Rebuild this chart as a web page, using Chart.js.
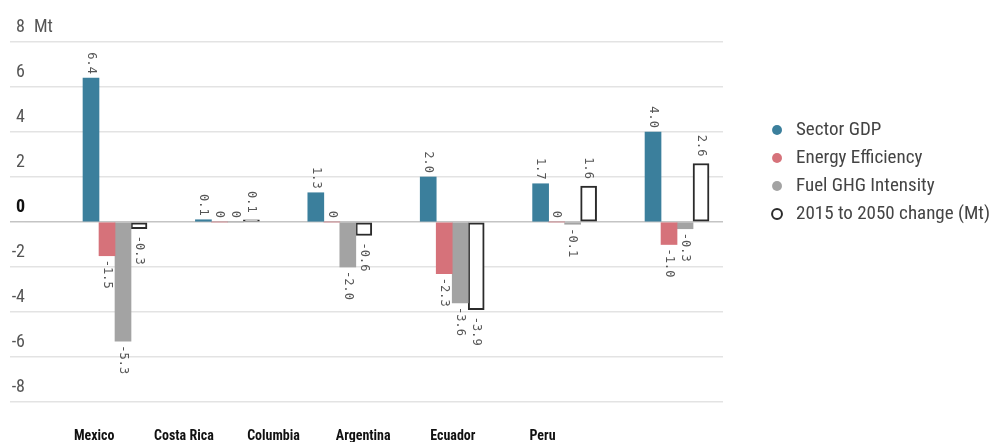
<!DOCTYPE html>
<html>
<head>
<meta charset="utf-8">
<script src="https://cdn.jsdelivr.net/npm/chart.js@4.4.1/dist/chart.umd.min.js"></script>
<style>
  html, body { margin: 0; padding: 0; background: #ffffff; }
  canvas { display: block; }
</style>
</head>
<body>
<canvas id="chart" width="993" height="442"></canvas>
<script>
// Emission drivers by country, Mt, 2015 to 2050
const categories = ['Mexico', 'Costa Rica', 'Columbia', 'Argentina', 'Ecuador', 'Peru'];
const sectorGdp = [6.4, 0.1, 1.3, 2.0, 1.7, 4.0];
const energyEfficiency = [-1.5, 0, 0, -2.3, 0, -1.0];
const fuelGhgIntensity = [-5.3, 0, -2.0, -3.6, -0.1, -0.3];
const totalChange = [-0.3, 0.1, -0.6, -3.9, 1.6, 2.6];
const yTicks = [-8, -6, -4, -2, 0, 2, 4, 6, 8];
const unitLabel = 'Mt';

const PLOT_RIGHT = 723;
const LEGEND_OVERHANG = 7;
const NARROW = "'Roboto Condensed', 'Liberation Sans Narrow', 'DejaVu Sans Condensed', Roboto, sans-serif";
const MONO = "'DejaVu Sans Mono', 'Liberation Mono', monospace";

const toPoints = (arr) => arr.map((v, i) => ({ x: i, y: v }));

// Rotated value labels placed at the end of each bar
const barValueLabels = {
  id: 'barValueLabels',
  afterDatasetsDraw(chart) {
    const ctx = chart.ctx;
    ctx.save();
    ctx.font = '12px ' + MONO;
    ctx.fillStyle = '#555555';
    ctx.textBaseline = 'middle';
    chart.data.datasets.forEach((ds, di) => {
      const meta = chart.getDatasetMeta(di);
      const gap = ds.outlined ? 7 : 4;
      meta.data.forEach((el, i) => {
        const v = ds.data[i].y;
        const text = v === 0 ? '0' : v.toFixed(1);
        ctx.save();
        if (v >= 0) {
          ctx.translate(el.x, el.y - gap);
          ctx.rotate(Math.PI / 2);
          ctx.textAlign = 'right';
        } else {
          ctx.translate(el.x, el.y + gap);
          ctx.rotate(Math.PI / 2);
          ctx.textAlign = 'left';
        }
        ctx.fillText(text, 0, 0);
        ctx.restore();
      });
    });
    ctx.restore();
  }
};

const gridColor = (c) => (c.tick && c.tick.value === 0) ? '#c4c4c4' : '#e3e3e3';

new Chart(document.getElementById('chart'), {
  type: 'bar',
  data: {
    datasets: [
      { label: 'Sector GDP', data: toPoints(sectorGdp), backgroundColor: '#3b7f9c', borderWidth: 0 },
      { label: 'Energy Efficiency', data: toPoints(energyEfficiency), backgroundColor: '#d6727a', borderWidth: 0 },
      { label: 'Fuel GHG Intensity', data: toPoints(fuelGhgIntensity), backgroundColor: '#a3a3a3', borderWidth: 0 },
      { label: '2015 to 2050 change (Mt)', data: toPoints(totalChange), backgroundColor: '#ffffff',
        borderColor: '#2b2b2b', borderWidth: 2, borderSkipped: false, outlined: true }
    ]
  },
  options: {
    responsive: false,
    animation: false,
    layout: { padding: { top: 42, left: 0, right: -LEGEND_OVERHANG, bottom: 0 } },
    datasets: { bar: { barThickness: 16, grouped: true } },
    scales: {
      y: {
        type: 'linear',
        position: 'left',
        min: -8,
        max: 8,
        afterBuildTicks: (s) => { s.ticks = yTicks.map(v => ({ value: v })); },
        afterFit: (s) => { s.width = 25; },
        border: { display: false },
        grid: {
          drawTicks: true,
          tickLength: 15,
          lineWidth: 1.5,
          color: gridColor,
          tickColor: gridColor
        },
        ticks: {
          crossAlign: 'near',
          padding: -15,
          labelOffset: -15,
          color: (c) => (c.tick && c.tick.value === 0) ? '#111111' : '#555555',
          font: (c) => (c.tick && c.tick.value === 0)
            ? { family: NARROW, size: 18, weight: 'bold' }
            : { family: NARROW, size: 18, weight: 'normal' },
          callback: (v) => String(v)
        }
      },
      yUnit: {
        type: 'linear',
        position: 'left',
        min: -8,
        max: 8,
        afterBuildTicks: (s) => { s.ticks = [{ value: yTicks[yTicks.length - 1] }]; },
        afterFit: (s) => { s.width = 0; s.paddingTop = 0; s.paddingBottom = 0; },
        border: { display: false },
        grid: { display: false, drawTicks: false },
        ticks: {
          mirror: true,
          padding: 34,
          labelOffset: -15,
          color: '#555555',
          font: { family: NARROW, size: 18, lineHeight: 0.2 },
          callback: () => unitLabel
        }
      },
      yPad: {
        type: 'linear',
        position: 'right',
        display: true,
        afterFit: (s) => {
          s.width = Math.max(0, s.chart.width + LEGEND_OVERHANG - s.chart.legend.width - PLOT_RIGHT);
        },
        border: { display: false },
        grid: { display: false, drawTicks: false },
        ticks: { display: false }
      },
      x: {
        type: 'linear',
        offset: false,
        min: -0.8007,
        max: 5.409,
        display: false
      },
      xNames: {
        type: 'linear',
        position: 'bottom',
        offset: false,
        min: -0.7718,
        max: 7.013,
        afterBuildTicks: (s) => { s.ticks = categories.map((c, i) => ({ value: i })); },
        afterFit: (s) => { s.height = 40; },
        border: { display: false },
        grid: { display: false, drawTicks: false },
        ticks: {
          autoSkip: false,
          maxRotation: 0,
          padding: 26,
          color: '#111111',
          font: { family: NARROW, size: 14, weight: 'bold' },
          callback: (v) => categories[v]
        }
      }
    },
    plugins: {
      tooltip: { enabled: false },
      legend: {
        position: 'right',
        align: 'start',
        maxWidth: 400,
        title: { display: true, text: ' ', font: { size: 1, lineHeight: 1 }, padding: { top: 68.5, bottom: 0 } },
        labels: {
          usePointStyle: true,
          pointStyle: 'circle',
          boxWidth: 19,
          boxHeight: 7,
          padding: 9,
          color: '#444444',
          font: { family: NARROW, size: 19 }
        }
      }
    }
  },
  plugins: [barValueLabels]
});
</script>
</body>
</html>
